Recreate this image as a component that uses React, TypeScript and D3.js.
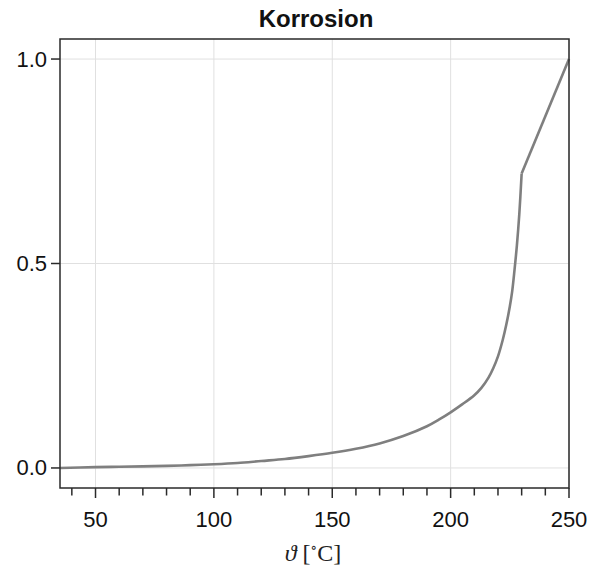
import React from "react";
import * as d3 from "d3";

const temps = [35, 50, 60, 70, 80, 90, 100, 110, 120, 130, 140, 150, 160, 170, 180, 190, 195, 200, 205, 210, 213, 216, 218, 220, 222, 223.5, 225, 226, 227, 228, 229, 230];
const corrosion = [0.0, 0.002, 0.003, 0.004, 0.005, 0.007, 0.009, 0.012, 0.017, 0.022, 0.029, 0.037, 0.047, 0.06, 0.078, 0.102, 0.118, 0.136, 0.156, 0.178, 0.196, 0.221, 0.244, 0.273, 0.313, 0.35, 0.395, 0.432, 0.485, 0.545, 0.62, 0.72];
const tailTemps = [230, 250];
const tailValues = [0.72, 1.0];
const xMajorTicks = [50, 100, 150, 200, 250];
const xMinorTicks = [40, 60, 70, 80, 90, 110, 120, 130, 140, 160, 170, 180, 190, 210, 220, 230, 240];
const yTicks = [0, 0.5, 1.0];

export default function App() {
  const W = 593, H = 567;
  const L = 60, R = 569, T = 39, B = 488;
  const x = d3.scaleLinear().domain([35, 250]).range([L, R]);
  const y = d3.scaleLinear().domain([-0.049, 1.049]).range([B, T]);
  const curve = d3.line<number>().x((_, i) => x(temps[i])).y((d) => y(d)).curve(d3.curveCatmullRom.alpha(0.5))(corrosion) || "";
  const tail = d3.line<number>().x((_, i) => x(tailTemps[i])).y((d) => y(d))(tailValues) || "";
  const sans = "'Liberation Sans', Arial, Helvetica, sans-serif";
  const serif = "'Liberation Serif', 'DejaVu Serif', serif";
  return (
    <svg width={W} height={H} style={{ position: "absolute", left: 0, top: 0, background: "#fff" }}>
      <rect x={0} y={0} width={W} height={H} fill="#fff" />
      {xMajorTicks.map((t) => (
        <line key={"gx" + t} x1={x(t)} x2={x(t)} y1={T} y2={B} stroke="#e0e0e0" strokeWidth={1} />
      ))}
      {yTicks.map((t) => (
        <line key={"gy" + t} x1={L} x2={R} y1={y(t)} y2={y(t)} stroke="#e0e0e0" strokeWidth={1} />
      ))}
      <path d={curve} fill="none" stroke="#7f7f7f" strokeWidth={2.6} strokeLinejoin="round" />
      <path d={tail} fill="none" stroke="#7f7f7f" strokeWidth={2.6} strokeLinejoin="round" />
      <rect x={L} y={T} width={R - L} height={B - T} fill="none" stroke="#2a2a2a" strokeWidth={1.5} />
      {xMajorTicks.map((t) => (
        <g key={"xt" + t}>
          <line x1={x(t)} x2={x(t)} y1={B} y2={B + 10} stroke="#2a2a2a" strokeWidth={1.5} />
          <text x={x(t)} y={527} textAnchor="middle" fontFamily={sans} fontSize={22} fill="#111">{t}</text>
        </g>
      ))}
      {xMinorTicks.map((t) => (
        <line key={"xm" + t} x1={x(t)} x2={x(t)} y1={B} y2={B + 7.5} stroke="#2a2a2a" strokeWidth={1.5} />
      ))}
      {yTicks.map((t) => (
        <g key={"yt" + t}>
          <line x1={L - 9} x2={L} y1={y(t)} y2={y(t)} stroke="#2a2a2a" strokeWidth={1.5} />
          <text x={L - 13} y={y(t) + 7.5} textAnchor="end" fontFamily={sans} fontSize={22} fill="#111">{t.toFixed(1)}</text>
        </g>
      ))}
      <text x={316} y={27} textAnchor="middle" fontFamily={sans} fontWeight="bold" fontSize={24} fill="#111">Korrosion</text>
      <text x={313} y={561} textAnchor="middle" fontFamily={serif} fontSize={24} fill="#222">
        <tspan fontStyle="italic">ϑ</tspan>
        <tspan dx={6}>[</tspan>
        <tspan fontSize={14} dy={-9}>∘</tspan>
        <tspan dy={9}>C]</tspan>
      </text>
    </svg>
  );
}
